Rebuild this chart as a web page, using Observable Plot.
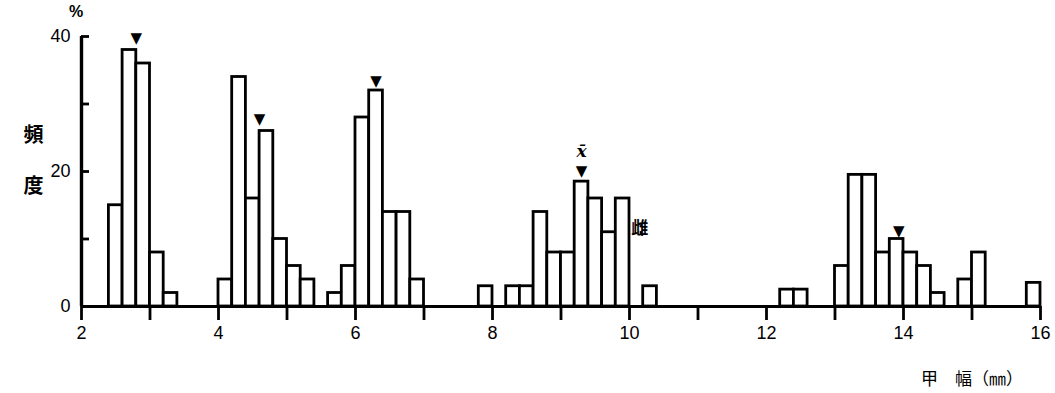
<!DOCTYPE html>
<html><head><meta charset="utf-8">
<script src="https://cdn.jsdelivr.net/npm/d3@7"></script>
<script src="https://cdn.jsdelivr.net/npm/@observablehq/plot@0.6"></script>
<style>body{margin:0;background:#fff} #chart{width:1055px;height:393px}</style>
</head><body><div id="chart"></div>
<script>
const binWidth = 0.2;
const group1Lo = [2.4, 2.6, 2.8, 3.0, 3.2];
const group1Pct = [15, 38, 36, 8, 2];
const group2Lo = [4.0, 4.2, 4.4, 4.6, 4.8, 5.0, 5.2];
const group2Pct = [4, 34, 16, 26, 10, 6, 4];
const group3Lo = [5.6, 5.8, 6.0, 6.2, 6.4, 6.6, 6.8];
const group3Pct = [2, 6, 28, 32, 14, 14, 4];
const group4Lo = [7.8, 8.2, 8.4, 8.6, 8.8, 9.0, 9.2, 9.4, 9.6, 9.8, 10.2];
const group4Pct = [3, 3, 3, 14, 8, 8, 18.5, 16, 11, 16, 3];
const group5Lo = [12.2, 12.4, 13.0, 13.2, 13.4, 13.6, 13.8, 14.0, 14.2, 14.4, 14.8, 15.0, 15.8];
const group5Pct = [2.5, 2.5, 6, 19.5, 19.5, 8, 10, 8, 6, 2, 4, 8, 3.5];

const markerX = [2.8, 4.6, 6.3, 9.3, 13.93];
const markerY = [39.8, 27.8, 33.4, 20.1, 11.2];

const xTicks = [2,3,4,5,6,7,8,9,10,11,12,13,14,15,16];
const xTickLabels = ["2","","4","","6","","8","","10","","12","","14","","16"];
const yTicks = [0, 10, 20, 30, 40];
const yTickLabels = ["0", "", "20", "", "40"];

const meanNote = [{x: 9.3, y: 23.0, text: "x̄"}];
const sexNote = [{x: 10.15, y: 11.6, text: "雌"}];
const unitNote = [{x: 1.92, y: 43.6, text: "%"}];
const yLabel = [{x: 1.30, y: 25.3, text: "頻"}, {x: 1.30, y: 17.8, text: "度"}];
const xLabel = [{x: 15.0, y: -10.8, text: "甲　幅（㎜）"}];

const groups = [[group1Lo, group1Pct],[group2Lo, group2Pct],[group3Lo, group3Pct],[group4Lo, group4Pct],[group5Lo, group5Pct]];
const bars = groups.flatMap(([lo, pct]) => lo.map((l, i) => ({x1: l, x2: +(l + binWidth).toFixed(2), y: pct[i]})));
const markers = markerX.map((x, i) => ({x, y: markerY[i]}));

const txt = (data, fontSize, fontFamily, extra = {}) =>
  Plot.text(data, {x: "x", y: "y", text: "text", fontSize, fontFamily, fill: "#000", ...extra});

const chart = Plot.plot({
  width: 1055,
  height: 393,
  marginLeft: 81,
  marginRight: 15,
  marginTop: 36,
  marginBottom: 87,
  style: {background: "#fff", color: "#000", fontFamily: "Liberation Sans"},
  x: {domain: [2, 16]},
  y: {domain: [0, 40]},
  marks: [
    Plot.rectY(bars, {x1: "x1", x2: "x2", y: "y", fill: "#fff", stroke: "#000", strokeWidth: 2.8}),
    Plot.axisX({ticks: xTicks, tickSize: 14, tickPadding: 6, strokeWidth: 2.8, fontSize: 18,
      tickFormat: (d) => xTickLabels[xTicks.indexOf(d)], label: null}),
    Plot.axisY({ticks: yTicks, tickSize: -8, tickPadding: 19, strokeWidth: 2.8, fontSize: 18,
      tickFormat: (d) => yTickLabels[yTicks.indexOf(d)], label: null}),
    Plot.ruleY([0], {strokeWidth: 3}),
    Plot.ruleX([2], {y1: 0, y2: 40, strokeWidth: 3.4}),
    Plot.text(markers, {x: "x", y: "y", text: () => "▼", fontSize: 15, fontFamily: "DejaVu Sans", fill: "#000"}),
    txt(meanNote, 17, "DejaVu Serif", {fontStyle: "italic", fontWeight: "bold"}),
    txt(sexNote, 17, "Noto Sans CJK JP", {fontWeight: "bold"}),
    txt(unitNote, 16, "Liberation Sans", {fontWeight: "bold"}),
    txt(yLabel, 20, "Noto Sans CJK JP", {fontWeight: "bold"}),
    txt(xLabel, 17, "Noto Sans CJK JP")
  ]
});
document.getElementById("chart").append(chart);
</script>
</body></html>
